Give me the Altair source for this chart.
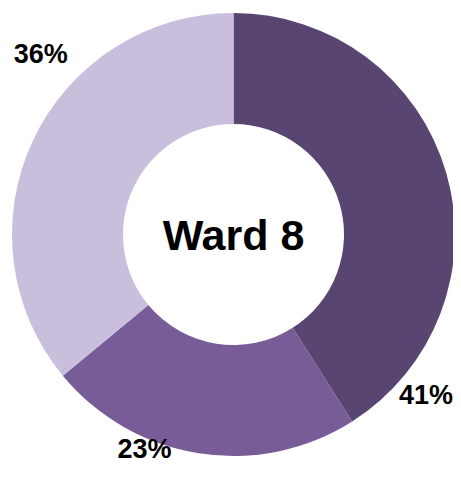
import altair as alt
import pandas as pd

segments = ["Segment 1", "Segment 2", "Segment 3"]
values = [41, 23, 36]
labels = ["41%", "23%", "36%"]
colors = ["#584571", "#785c98", "#c9bfdc"]
center_title = "Ward 8"

CX, CY = 225.5, 226.5
R_OUT, R_IN = 221.5, 110.5
FONT = "Liberation Sans, Arial, sans-serif"

df = pd.DataFrame({"segment": segments, "value": values, "label": labels,
                   "order": list(range(len(values)))})

theta_scale = alt.Scale(domain=[0, 100])

arc = alt.Chart(df).mark_arc(radius=R_OUT, radius2=R_IN).encode(
    theta=alt.Theta("value:Q", stack=True, scale=theta_scale),
    color=alt.Color("segment:N", scale=alt.Scale(domain=segments, range=colors), legend=None),
    order=alt.Order("order:Q"),
    x=alt.value(CX), y=alt.value(CY),
)

lab_base = alt.Chart(df).transform_window(
    cum="sum(value)", sort=[alt.SortField("order")], frame=[None, 0]
).transform_calculate(mid="datum.cum - datum.value / 2")

# label placement: (radius px, angular nudge rad) per slice
placement = [(251.6, 0.982), (233.2, 0.2346), (263.6, 0.311)]

layers = [arc]
for i, (r, off) in enumerate(placement):
    layers.append(
        lab_base.transform_filter(alt.datum.order == i).mark_text(
            radius=r, thetaOffset=off, font=FONT, fontSize=27, fontWeight="bold",
            color="#000000", align="center", baseline="middle",
        ).encode(
            theta=alt.Theta("mid:Q", stack=None, scale=theta_scale),
            text="label:N",
            x=alt.value(CX), y=alt.value(CY),
        )
    )

title = alt.Chart(pd.DataFrame({"t": [center_title]})).mark_text(
    font=FONT, fontSize=43, fontWeight="bold", color="#000000",
    align="center", baseline="alphabetic",
).encode(text="t:N", x=alt.value(225.5), y=alt.value(241.5))
layers.append(title)

chart = alt.layer(*layers).properties(
    width=445, height=457, autosize=alt.AutoSizeParams(type="none"), padding=0
).configure_view(stroke=None)

chart.save("out.html", embed_options={"renderer": "svg", "actions": False})
